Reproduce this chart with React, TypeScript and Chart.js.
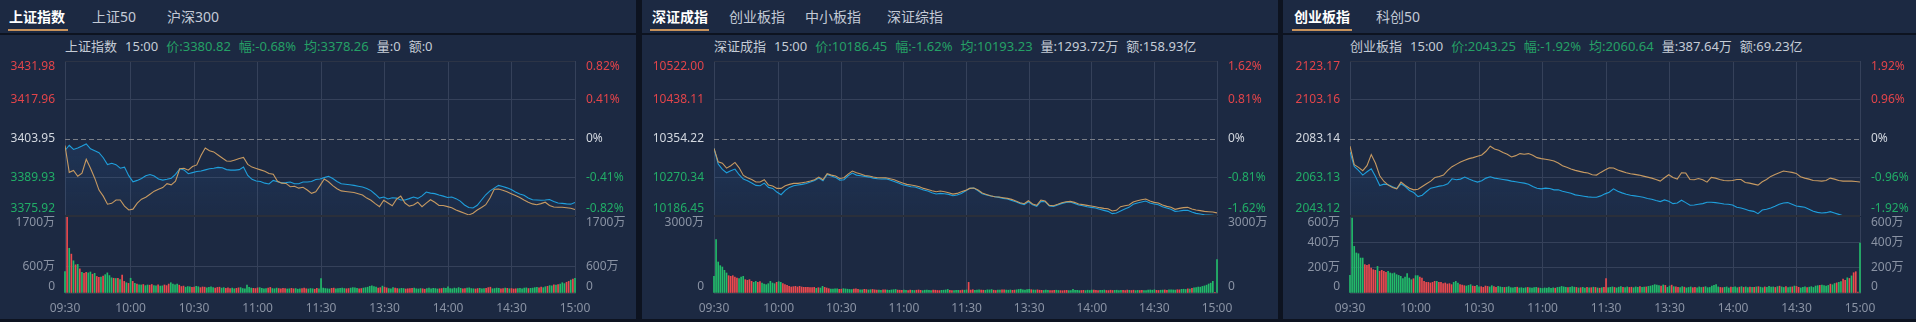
import React, { useEffect, useRef } from 'react';
import { Chart, registerables } from 'chart.js';

Chart.register(...registerables);

const FONT = '"Noto Sans", "Noto Sans CJK SC", sans-serif';
const BG = '#1c2942';
const GAP = '#0d1320';
const GRID = '#35415a';
const BORDER_TOP = '#2c3446';
const SEP = '#2a2f3a';
const RED = '#e2444a';
const GREEN = '#21ad67';
const WHITE = '#d3d8e0';
const GREY = '#8a93a4';
const BLUE = '#1f9fdc';
const TAN = '#c79a62';
const BAR_RED = '#ec4a4e';
const BAR_GREEN = '#22bb6a';
const HEAD_TEXT = '#c5ccd6';
const HEAD_GREEN = '#25a066';
const TAB_TEXT = '#c3cad6';
const TAB_LINE = '#c8925a';

// ---------- shared axis data ----------
const TIME_LABELS = ['09:30', '10:00', '10:30', '11:00', '11:30', '13:30', '14:00', '14:30', '15:00'];
const TIME_SLOTS = [0, 31, 61, 91, 121, 151, 181, 211, 241];
const SLOT_MAX = 241;

// ---------- 上证指数 ----------
const SH_TABS = ['上证指数', '上证50', '沪深300'];
const SH_HEADER = ['上证指数', '15:00', '价:3380.82', '幅:-0.68%', '均:3378.26', '量:0', '额:0'];
const SH_PRICE_TICKS = [3431.98, 3417.96, 3403.95, 3389.93, 3375.92];
const SH_PCT_TICKS = ['0.82%', '0.41%', '0%', '-0.41%', '-0.82%'];
const SH_VOL_TICKS = [1700, 600, 0];
const SH_VOL_LABELS = ['1700万', '600万', '0'];
const SH_PRICE = [
  3399.6, 3401.5, 3400.0, 3400.5, 3401.2, 3402.0, 3400.2, 3399.5, 3398.8, 3397.0,
  3394.5, 3395.0, 3394.5, 3393.2, 3393.6, 3390.5, 3388.3, 3388.8, 3389.5, 3390.5,
  3390.9, 3390.4, 3389.3, 3388.9, 3389.2, 3389.6, 3391.0, 3393.0, 3392.6, 3391.2,
  3391.6, 3392.0, 3392.2, 3392.6, 3393.0, 3393.2, 3393.5, 3393.4, 3392.7, 3392.5,
  3392.5, 3392.7, 3393.6, 3390.6, 3389.2, 3388.6, 3388.4, 3387.8, 3387.5, 3388.8,
  3388.3, 3387.9, 3388.0, 3388.2, 3387.6, 3387.6, 3388.2, 3388.2, 3388.4, 3389.1,
  3389.3, 3389.8, 3390.3, 3389.5, 3388.4, 3387.6, 3387.4, 3387.2, 3387.0, 3386.7,
  3386.4, 3385.9, 3385.1, 3383.8, 3382.4, 3382.8, 3382.1, 3382.5, 3382.4, 3381.7,
  3381.7, 3382.2, 3382.8, 3382.3, 3383.2, 3384.6, 3384.2, 3384.0, 3383.5, 3383.1,
  3382.6, 3382.8, 3382.2, 3381.3, 3379.9, 3379.0, 3378.8, 3379.8, 3381.7, 3383.6,
  3385.0, 3386.0, 3387.0, 3386.6, 3386.1, 3385.5, 3384.6, 3383.9, 3383.4, 3382.4,
  3381.8, 3381.7, 3381.6, 3381.7, 3381.9, 3381.2, 3380.6, 3380.5, 3380.3, 3380.2,
  3380.82,
];
const SH_AVG = [
  3401.4, 3391.7, 3392.4, 3390.3, 3391.4, 3396.4, 3393.2, 3389.6, 3385.3, 3383.1,
  3380.2, 3380.5, 3381.7, 3381.7, 3379.5, 3378.1, 3378.4, 3380.6, 3382.0, 3382.7,
  3383.8, 3384.9, 3385.6, 3386.2, 3387.6, 3387.2, 3388.5, 3393.0, 3393.2, 3392.5,
  3393.8, 3394.4, 3397.8, 3400.5, 3399.5, 3399.1, 3398.0, 3396.9, 3395.8, 3395.7,
  3396.2, 3396.7, 3397.1, 3394.6, 3393.6, 3393.1, 3392.6, 3392.1, 3391.3, 3391.0,
  3388.5, 3387.8, 3387.7, 3386.5, 3386.7, 3386.0, 3386.3, 3385.3, 3384.1, 3384.7,
  3386.9, 3389.3, 3388.3, 3386.9, 3385.8, 3385.0, 3384.8, 3384.6, 3384.4, 3384.0,
  3383.5, 3382.4, 3381.6, 3380.4, 3379.3, 3381.6, 3380.6, 3379.6, 3382.0, 3383.1,
  3380.6, 3379.5, 3379.9, 3380.9, 3379.3, 3380.6, 3381.8, 3380.9, 3379.7, 3379.7,
  3379.3, 3378.9, 3378.1, 3377.5, 3376.9, 3376.3, 3376.9, 3378.1, 3379.0, 3380.0,
  3382.4, 3385.6, 3385.7, 3385.2, 3384.7, 3384.0, 3383.3, 3382.6, 3381.7, 3380.9,
  3380.3, 3380.0, 3380.4, 3380.9, 3379.7, 3379.2, 3379.1, 3379.1, 3378.9, 3378.7,
  3378.26,
];
const SH_VOL = [
  480, 1690, 1000, 870, 720, 630, 640, 540, 460, 440,
  460, 450, 470, 420, 440, 370, 350, 355, 380, 410,
  450, 390, 340, 330, 325, 330, 300, 400, 260, 230,
  215, 330, 260, 215, 200, 185, 180, 190, 165, 180,
  175, 190, 165, 160, 180, 155, 160, 180, 165, 200,
  230, 200, 185, 200, 175, 145, 155, 130, 145, 140,
  125, 135, 150, 140, 120, 135, 130, 115, 125, 140,
  120, 110, 125, 130, 110, 120, 105, 115, 100, 110,
  95, 105, 115, 120, 100, 95, 175, 125, 110, 105,
  100, 115, 120, 105, 95, 100, 110, 125, 100, 95,
  110, 100, 95, 105, 100, 90, 95, 105, 95, 100,
  85, 95, 100, 110, 95, 90, 100, 95, 85, 105,
  95, 320, 110, 100, 95, 90, 105, 110, 95, 100,
  105, 110, 100, 95, 100, 110, 120, 115, 105, 95,
  100, 110, 120, 130, 150, 160, 145, 135, 110, 120,
  155, 130, 115, 100, 95, 120, 110, 100, 95, 105,
  100, 90, 95, 100, 105, 110, 95, 90, 100, 95,
  85, 100, 110, 95, 105, 100, 90, 95, 100, 110,
  105, 140, 100, 95, 110, 100, 120, 105, 95, 100,
  110, 115, 100, 95, 90, 100, 105, 95, 100, 105,
  120, 130, 95, 100, 110, 105, 95, 100, 110, 105,
  95, 100, 90, 95, 100, 105, 95, 110, 115, 100,
  105, 110, 120, 125, 115, 130, 120, 140, 150, 165,
  160, 180, 175, 190, 200, 230, 210, 240, 260, 290,
  310, 330,
];
const SH_DIR =
  'grgrgrgrgr' + 'rggrgrrgrg' + 'gggrgrgrrg' + 'rgrgrggrgg' + 'rrggrggrrr' +
  'ggggrrrggg' + 'rrggrrrggg' + 'grrrggrrrg' + 'grrggggggr' + 'rrggggrrgg' +
  'grrrrggrrg' + 'ggrrrgggrr' + 'ggggggrrgg' + 'gggrrggggr' + 'rgggggggrr' +
  'grrgggrrgg' + 'grrrrggggr' + 'rggggggrrg' + 'ggggggggrr' + 'ggggrrgggr' +
  'rrggggrrgr' + 'grrrgggggr' + 'ggggrrggrg' + 'grgrgggrrg' + 'rg';

// ---------- 深证成指 ----------
const SZ_TABS = ['深证成指', '创业板指', '中小板指', '深证综指'];
const SZ_HEADER = ['深证成指', '15:00', '价:10186.45', '幅:-1.62%', '均:10193.23', '量:1293.72万', '额:158.93亿'];
const SZ_PRICE_TICKS = [10522.0, 10438.11, 10354.22, 10270.34, 10186.45];
const SZ_PCT_TICKS = ['1.62%', '0.81%', '0%', '-0.81%', '-1.62%'];
const SZ_VOL_TICKS = [3000, 0];
const SZ_VOL_LABELS = ['3000万', '0'];
const SZ_PRICE = [
  10332.6, 10298.8, 10287.3, 10280.1, 10284.4, 10288.0, 10275.8, 10266.4, 10262.8, 10257.7,
  10252.7, 10252.0, 10257.7, 10248.4, 10246.2, 10238.3, 10232.5, 10241.9, 10248.4, 10252.0,
  10253.4, 10254.9, 10257.0, 10259.9, 10263.5, 10268.5, 10262.8, 10276.5, 10272.9, 10270.0,
  10264.2, 10265.0, 10273.6, 10279.4, 10275.0, 10273.6, 10272.2, 10270.7, 10268.5, 10267.1,
  10266.4, 10267.1, 10264.2, 10261.3, 10257.7, 10254.1, 10252.0, 10249.8, 10249.1, 10246.2,
  10242.6, 10240.4, 10236.8, 10234.0, 10235.4, 10234.7, 10233.2, 10230.4, 10231.8, 10235.4,
  10240.4, 10246.2, 10246.9, 10241.2, 10234.7, 10231.8, 10229.7, 10228.2, 10226.8, 10224.6,
  10223.2, 10220.3, 10217.4, 10213.8, 10211.0, 10217.4, 10211.0, 10207.3, 10218.1, 10217.4,
  10208.0, 10207.3, 10210.2, 10213.8, 10216.0, 10216.7, 10213.8, 10210.2, 10208.8, 10206.6,
  10205.2, 10203.7, 10200.9, 10198.7, 10196.5, 10191.5, 10192.9, 10197.2, 10201.6, 10205.2,
  10211.7, 10214.5, 10216.7, 10218.8, 10214.5, 10212.4, 10211.0, 10206.6, 10203.7, 10200.9,
  10196.5, 10197.2, 10198.7, 10198.7, 10195.1, 10192.2, 10190.8, 10189.3, 10188.6, 10187.9,
  10186.45,
];
const SZ_AVG = [
  10332.6, 10303.8, 10300.9, 10290.1, 10295.2, 10302.4, 10290.8, 10274.3, 10269.2, 10265.6,
  10259.9, 10259.9, 10264.9, 10253.4, 10251.2, 10246.2, 10246.2, 10252.0, 10254.9, 10257.0,
  10257.0, 10258.5, 10259.9, 10262.1, 10264.9, 10270.7, 10264.9, 10277.9, 10275.0, 10272.9,
  10267.8, 10269.2, 10277.2, 10283.7, 10280.1, 10277.2, 10274.3, 10272.9, 10270.7, 10269.2,
  10269.2, 10269.2, 10267.1, 10264.9, 10261.3, 10257.7, 10254.9, 10253.4, 10252.0, 10249.8,
  10246.2, 10244.0, 10241.2, 10239.0, 10240.4, 10239.0, 10236.8, 10233.9, 10235.4, 10239.0,
  10241.9, 10246.2, 10246.9, 10242.6, 10236.1, 10233.2, 10230.4, 10228.2, 10227.5, 10226.0,
  10224.6, 10222.5, 10218.8, 10215.3, 10213.1, 10219.6, 10212.4, 10209.5, 10221.0, 10218.8,
  10209.5, 10208.8, 10211.7, 10215.3, 10217.4, 10218.1, 10216.0, 10212.4, 10211.0, 10209.5,
  10208.0, 10206.6, 10204.5, 10203.0, 10202.3, 10197.2, 10198.7, 10206.6, 10208.8, 10210.2,
  10216.7, 10219.6, 10221.7, 10223.2, 10218.8, 10216.0, 10214.5, 10210.2, 10207.3, 10205.2,
  10200.9, 10203.0, 10204.5, 10205.2, 10201.6, 10199.4, 10198.0, 10196.5, 10195.8, 10195.1,
  10193.23,
];
const SZ_VOL = [
  660, 2105, 1224, 1080, 1026, 895, 790, 684, 658, 684,
  632, 590, 566, 632, 658, 526, 500, 526, 460, 421,
  460, 421, 447, 395, 355, 329, 368, 460, 395, 368,
  421, 447, 421, 368, 329, 303, 263, 237, 250, 263,
  237, 263, 237, 224, 224, 224, 210, 210, 224, 184,
  210, 197, 263, 224, 197, 171, 158, 150, 165, 160,
  145, 150, 170, 160, 150, 140, 135, 150, 160, 140,
  130, 125, 145, 135, 120, 130, 140, 125, 115, 120,
  110, 125, 130, 115, 105, 120, 130, 140, 115, 110,
  105, 120, 110, 100, 115, 105, 100, 110, 120, 105,
  95, 110, 120, 105, 100, 115, 110, 100, 95, 105,
  110, 120, 140, 105, 100, 95, 110, 105, 100, 115,
  110, 120, 420, 115, 130, 110, 120, 125, 115, 110,
  105, 125, 120, 135, 110, 100, 115, 120, 125, 130,
  115, 110, 120, 105, 115, 125, 140, 150, 130, 120,
  135, 145, 130, 120, 115, 125, 110, 105, 100, 115,
  110, 95, 100, 105, 110, 100, 95, 90, 100, 105,
  95, 100, 140, 110, 105, 95, 100, 105, 95, 110,
  100, 115, 120, 105, 100, 110, 105, 115, 100, 95,
  110, 100, 105, 110, 95, 105, 110, 100, 115, 105,
  100, 110, 95, 105, 100, 110, 95, 100, 115, 120,
  110, 125, 105, 100, 110, 115, 120, 110, 125, 130,
  120, 115, 130, 125, 145, 150, 140, 165, 155, 180,
  200, 215, 235, 230, 260, 280, 310, 355, 390, 460,
  30, 1316,
];
const SZ_DIR =
  'gggggggrrr' + 'rrgggrrrrg' + 'grrggggggg' + 'rggrrrrrrr' + 'rrrrrrrrrg' +
  'rggrrrgggg' + 'rrgggggrrr' + 'ggrrggrrrg' + 'grrgggggrr' + 'rggrrggrrr' +
  'gggggrrrrg' + 'gggrrgggrr' + 'ggrrrgggrr' + 'ggggrrggrr' + 'gggrrggggg' +
  'ggrggrrrgg' + 'grrrggrrrr' + 'ggggggrrgg' + 'ggrrrgggrr' + 'rrggggrrrg' +
  'rrggrrgggg' + 'ggrrggrrgg' + 'ggrrgggrgr' + 'gggggggggg' + 'rg';

// ---------- 创业板指 ----------
const CY_TABS = ['创业板指', '科创50'];
const CY_HEADER = ['创业板指', '15:00', '价:2043.25', '幅:-1.92%', '均:2060.64', '量:387.64万', '额:69.23亿'];
const CY_PRICE_TICKS = [2123.17, 2103.16, 2083.14, 2063.13, 2043.12];
const CY_PCT_TICKS = ['1.92%', '0.96%', '0%', '-0.96%', '-1.92%'];
const CY_VOL_TICKS = [600, 400, 200, 0];
const CY_VOL_LABELS = ['600万', '400万', '200万', '0'];
const CY_PRICE = [
  2076.21, 2068.76, 2066.68, 2064.25, 2065.98, 2067.54, 2063.56, 2058.88, 2059.57, 2059.22,
  2058.18, 2057.32, 2059.74, 2058.36, 2056.28, 2055.24, 2053.16, 2053.85, 2055.76, 2057.49,
  2058.01, 2058.53, 2058.88, 2059.74, 2062.34, 2061.82, 2062.17, 2063.21, 2062.17, 2061.30,
  2060.61, 2061.30, 2062.69, 2063.38, 2062.69, 2062.34, 2061.99, 2061.65, 2061.13, 2060.78,
  2060.44, 2060.09, 2059.57, 2058.36, 2057.49, 2057.15, 2057.49, 2057.32, 2056.63, 2056.63,
  2055.93, 2055.41, 2054.89, 2054.03, 2053.68, 2053.33, 2052.99, 2052.81, 2052.81, 2053.51,
  2054.55, 2055.41, 2057.15, 2055.93, 2055.07, 2054.37, 2053.85, 2053.51, 2053.16, 2052.81,
  2052.12, 2051.77, 2051.08, 2050.56, 2051.43, 2050.73, 2049.52, 2049.87, 2051.25, 2050.04,
  2048.65, 2048.83, 2049.17, 2049.52, 2050.21, 2050.21, 2050.04, 2049.69, 2049.35, 2049.17,
  2048.83, 2047.61, 2047.27, 2046.57, 2045.88, 2045.53, 2044.32, 2046.23, 2046.57, 2047.27,
  2048.13, 2049.17, 2049.87, 2050.04, 2049.17, 2048.31, 2047.96, 2047.61, 2046.57, 2045.53,
  2045.01, 2044.67, 2044.84, 2045.36, 2044.67, 2043.97, 2043.28, 2043.11, 2043.28, 2043.28,
  2043.25,
];
const CY_AVG = [
  2079.15, 2069.62, 2068.24, 2066.50, 2069.10, 2074.82, 2070.32, 2063.90, 2060.96, 2059.05,
  2057.84, 2057.15, 2060.61, 2058.88, 2057.49, 2056.63, 2056.97, 2058.36, 2059.74, 2061.13,
  2063.04, 2063.56, 2064.25, 2066.68, 2068.58, 2069.79, 2071.01, 2071.87, 2072.74, 2073.26,
  2073.96, 2074.65, 2076.55, 2079.15, 2077.76, 2077.07, 2075.86, 2074.99, 2073.61, 2074.30,
  2075.34, 2074.99, 2075.34, 2074.47, 2073.26, 2072.74, 2072.40, 2072.05, 2071.53, 2070.49,
  2069.10, 2068.24, 2067.37, 2066.68, 2066.16, 2065.64, 2065.29, 2064.42, 2064.25, 2065.64,
  2066.85, 2068.06, 2067.89, 2066.85, 2066.16, 2065.46, 2064.94, 2064.60, 2064.25, 2063.73,
  2063.21, 2062.69, 2061.99, 2061.13, 2062.86, 2064.42, 2063.04, 2062.17, 2065.46, 2065.29,
  2061.99, 2061.82, 2062.51, 2061.82, 2060.61, 2063.04, 2062.69, 2061.99, 2061.48, 2061.30,
  2061.48, 2061.99, 2061.99, 2060.44, 2060.09, 2059.57, 2059.05, 2060.78, 2061.99, 2063.56,
  2064.60, 2065.46, 2066.33, 2065.98, 2065.64, 2065.12, 2063.38, 2062.69, 2062.17, 2061.48,
  2061.30, 2061.13, 2061.48, 2062.69, 2062.17, 2061.48, 2061.13, 2061.13, 2061.13, 2060.95,
  2060.64,
];
const CY_VOL = [
  139, 592, 368, 316, 310, 276, 276, 224, 219, 224,
  197, 184, 179, 210, 171, 179, 171, 163, 171, 158,
  153, 158, 145, 139, 132, 113, 126, 153, 118, 105,
  113, 137, 137, 126, 118, 92, 84, 84, 79, 84,
  92, 92, 84, 84, 74, 79, 71, 74, 66, 84,
  92, 79, 66, 62, 58, 55, 60, 66, 55, 52,
  60, 48, 50, 45, 55, 52, 48, 58, 50, 45,
  52, 48, 45, 44, 46, 50, 42, 40, 44, 46,
  40, 42, 38, 42, 44, 40, 38, 42, 45, 40,
  38, 36, 40, 38, 42, 36, 40, 38, 44, 46,
  52, 48, 44, 42, 45, 50, 46, 44, 40, 42,
  45, 38, 44, 40, 42, 46, 44, 40, 38, 42,
  45, 113, 42, 45, 48, 44, 40, 46, 50, 45,
  42, 48, 44, 46, 42, 48, 45, 50, 44, 46,
  48, 52, 55, 60, 66, 62, 58, 55, 64, 60,
  45, 55, 62, 50, 48, 44, 42, 50, 46, 40,
  44, 48, 42, 45, 40, 48, 44, 46, 50, 42,
  44, 55, 60, 66, 48, 44, 42, 45, 48, 40,
  46, 44, 48, 42, 46, 50, 44, 48, 42, 46,
  44, 45, 48, 50, 46, 42, 48, 44, 52, 46,
  48, 44, 50, 54, 48, 44, 50, 42, 46, 48,
  55, 52, 45, 40, 44, 48, 42, 46, 50, 44,
  55, 58, 60, 62, 58, 55, 60, 70, 65, 75,
  80, 85, 90, 110, 100, 120, 115, 135, 160, 168,
  8, 395,
];
const CY_DIR =
  'gggggggrrr' + 'rrrgrrrrgg' + 'gggggggggg' + 'rggrrrrrrr' + 'rgrrrrrrrg' +
  'ggrrrgggrr' + 'ggrrrrggrr' + 'gggrgggggr' + 'ggggrggggr' + 'gggggggrgg' +
  'gggrgggrgr' + 'ggrgrgrgrg' + 'rrgggrgggr' + 'ggrrgggrgg' + 'rggggggrgr' +
  'ggrgrrggrg' + 'ggrrgggrgg' + 'gggggrrggg' + 'rgggrgrggr' + 'grgrggrggg' +
  'grgrggrggr' + 'grrgggrggg' + 'ggrggggrgg' + 'rggrrgrgrr' + 'rg';

// ---------- panel layout (positions only) ----------
const LAYOUT = [
  { left: 0, width: 636, chartLeft: 65, chartRight: 575, tabX: [9, 92, 167], line: [8, 68] },
  { left: 642, width: 636, chartLeft: 72, chartRight: 575, tabX: [10, 87, 163, 245], line: [8, 67] },
  { left: 1283, width: 633, chartLeft: 67, chartRight: 577, tabX: [11, 93], line: [9, 69] },
];

const PANELS = [
  { tabs: SH_TABS, header: SH_HEADER, priceTicks: SH_PRICE_TICKS, pctTicks: SH_PCT_TICKS, volTicks: SH_VOL_TICKS, volLabels: SH_VOL_LABELS, price: SH_PRICE, avg: SH_AVG, vol: SH_VOL, dir: SH_DIR },
  { tabs: SZ_TABS, header: SZ_HEADER, priceTicks: SZ_PRICE_TICKS, pctTicks: SZ_PCT_TICKS, volTicks: SZ_VOL_TICKS, volLabels: SZ_VOL_LABELS, price: SZ_PRICE, avg: SZ_AVG, vol: SZ_VOL, dir: SZ_DIR },
  { tabs: CY_TABS, header: CY_HEADER, priceTicks: CY_PRICE_TICKS, pctTicks: CY_PCT_TICKS, volTicks: CY_VOL_TICKS, volLabels: CY_VOL_LABELS, price: CY_PRICE, avg: CY_AVG, vol: CY_VOL, dir: CY_DIR },
];

type LabelItem = { scale: string; value: number; text: string; color: string; side: 'left' | 'right'; shift: number };

function makeLabelPlugin(id: string, items: LabelItem[]) {
  return {
    id,
    afterDraw(chart: any) {
      const { ctx, chartArea } = chart;
      ctx.save();
      ctx.font = `12px ${FONT}`;
      ctx.textBaseline = 'middle';
      for (const it of items) {
        const s = chart.scales[it.scale];
        const y = s.getPixelForValue(it.value) + it.shift;
        ctx.fillStyle = it.color;
        if (it.side === 'left') {
          ctx.textAlign = 'right';
          ctx.fillText(it.text, chartArea.left - 10, y);
        } else {
          ctx.textAlign = 'left';
          ctx.fillText(it.text, chartArea.right + 11, y);
        }
      }
      ctx.restore();
    },
  };
}

function Panel({ idx }: { idx: number }) {
  const lay = LAYOUT[idx];
  const p = PANELS[idx];
  const priceRef = useRef<HTMLCanvasElement>(null);
  const volRef = useRef<HTMLCanvasElement>(null);

  useEffect(() => {
    const charts: Chart[] = [];
    const leftW = lay.chartLeft;
    const rightW = lay.width - lay.chartRight;
    const pMax = p.priceTicks[0];
    const pMin = p.priceTicks[p.priceTicks.length - 1];
    const pBase = p.priceTicks[2];
    const n = p.price.length;
    const pricePts = p.price.map((v, i) => ({ x: (i * SLOT_MAX) / (n - 1), y: v }));
    const avgPts = p.avg.map((v, i) => ({ x: (i * SLOT_MAX) / (p.avg.length - 1), y: v }));

    const priceItems: LabelItem[] = [];
    p.priceTicks.forEach((v, i) => {
      const color = i < 2 ? RED : i === 2 ? WHITE : GREEN;
      const shift = i === 0 ? 6 : i === p.priceTicks.length - 1 ? -7 : 0;
      priceItems.push({ scale: 'y', value: v, text: v.toFixed(2), color, side: 'left', shift });
      priceItems.push({ scale: 'y', value: v, text: p.pctTicks[i], color, side: 'right', shift });
    });

    const dashPlugin = {
      id: 'zeroDash' + idx,
      beforeDatasetsDraw(chart: any) {
        const { ctx, chartArea } = chart;
        const y = Math.round(chart.scales.y.getPixelForValue(pBase)) + 0.5;
        ctx.save();
        ctx.strokeStyle = '#7b7f88';
        ctx.lineWidth = 1;
        ctx.setLineDash([5, 3]);
        ctx.beginPath();
        ctx.moveTo(chartArea.left, y);
        ctx.lineTo(chartArea.right, y);
        ctx.stroke();
        ctx.restore();
      },
    };

    const xCommon = {
      type: 'linear' as const,
      min: 0,
      max: SLOT_MAX,
      offset: false,
      afterBuildTicks: (s: any) => {
        s.ticks = TIME_SLOTS.map((v) => ({ value: v }));
      },
    };

    if (priceRef.current) {
      charts.push(
        new Chart(priceRef.current, {
          type: 'line',
          data: {
            datasets: [
              { data: avgPts, borderColor: TAN, borderWidth: 1.1, pointRadius: 0, fill: false, yAxisID: 'y', tension: 0 },
              {
                data: pricePts,
                borderColor: BLUE,
                borderWidth: 1.1,
                pointRadius: 0,
                tension: 0,
                yAxisID: 'y',
                fill: 'start',
                backgroundColor: (c: any) => {
                  const area = c.chart.chartArea;
                  if (!area) return 'rgba(0,0,0,0)';
                  const g = c.chart.ctx.createLinearGradient(0, area.top, 0, area.bottom);
                  g.addColorStop(0, 'rgba(48,118,200,0.26)');
                  g.addColorStop(1, 'rgba(48,118,200,0.04)');
                  return g;
                },
              },
            ],
          },
          options: {
            animation: false,
            responsive: false,
            maintainAspectRatio: false,
            events: [],
            layout: { padding: { top: 6, left: 0, right: 0, bottom: 0 } },
            plugins: { legend: { display: false }, tooltip: { enabled: false } },
            scales: {
              x: {
                ...xCommon,
                afterFit: (s: any) => {
                  s.height = 0;
                },
                ticks: { display: false },
                grid: { color: GRID, drawTicks: false, offset: false },
                border: { display: false },
              },
              y: {
                type: 'linear',
                position: 'left',
                min: pMin,
                max: pMax,
                afterBuildTicks: (s: any) => {
                  s.ticks = p.priceTicks.map((v) => ({ value: v }));
                },
                afterFit: (s: any) => {
                  s.width = leftW;
                },
                ticks: { display: false },
                grid: {
                  drawTicks: false,
                  color: (c: any) => {
                    const v = c.tick ? c.tick.value : null;
                    if (v === pMax) return BORDER_TOP;
                    if (v === pMin || v === pBase) return 'rgba(0,0,0,0)';
                    return GRID;
                  },
                },
                border: { display: false },
              },
              yR: {
                type: 'linear',
                position: 'right',
                min: pMin,
                max: pMax,
                afterFit: (s: any) => {
                  s.width = rightW;
                },
                ticks: { display: false },
                grid: { display: false, drawTicks: false },
                border: { display: false },
              },
            },
          } as any,
          plugins: [dashPlugin, makeLabelPlugin('priceLabels' + idx, priceItems)],
        })
      );
    }

    const vMax = p.volTicks[0];
    const volItems: LabelItem[] = [];
    p.volTicks.forEach((v, i) => {
      const shift = v === vMax ? 6 : v === 0 ? -6 : 0;
      volItems.push({ scale: 'y', value: v, text: p.volLabels[i], color: GREY, side: 'left', shift });
      volItems.push({ scale: 'y', value: v, text: p.volLabels[i], color: GREY, side: 'right', shift });
    });
    const sepPlugin = {
      id: 'sep' + idx,
      afterDraw(chart: any) {
        const { ctx, chartArea } = chart;
        ctx.save();
        ctx.fillStyle = SEP;
        ctx.fillRect(chartArea.left, chartArea.top - 2, chartArea.right - chartArea.left, 2);
        ctx.restore();
      },
    };

    if (volRef.current) {
      charts.push(
        new Chart(volRef.current, {
          type: 'bar',
          data: {
            datasets: [
              {
                data: p.vol.map((v, i) => ({ x: i, y: v })),
                backgroundColor: p.vol.map((_, i) => (p.dir[i] === 'r' ? BAR_RED : BAR_GREEN)),
                barThickness: 1,
                grouped: false,
                clip: 4,
              } as any,
            ],
          },
          options: {
            animation: false,
            responsive: false,
            maintainAspectRatio: false,
            events: [],
            layout: { padding: { top: 2, left: 0, right: 0, bottom: 0 } },
            plugins: { legend: { display: false }, tooltip: { enabled: false } },
            scales: {
              x: {
                ...xCommon,
                afterFit: (s: any) => {
                  s.height = 26;
                },
                ticks: {
                  display: true,
                  color: GREY,
                  font: { size: 12, family: FONT },
                  padding: 8,
                  autoSkip: false,
                  maxRotation: 0,
                  callback: (_v: any, i: number) => TIME_LABELS[i],
                },
                grid: { color: GRID, drawTicks: false, offset: false },
                border: { display: true, color: '#2f3a50' },
              },
              y: {
                type: 'linear',
                position: 'left',
                min: 0,
                max: vMax,
                afterBuildTicks: (s: any) => {
                  s.ticks = p.volTicks.map((v) => ({ value: v }));
                },
                afterFit: (s: any) => {
                  s.width = leftW;
                },
                ticks: { display: false },
                grid: {
                  drawTicks: false,
                  color: (c: any) => {
                    const v = c.tick ? c.tick.value : null;
                    if (v === vMax || v === 0) return 'rgba(0,0,0,0)';
                    return GRID;
                  },
                },
                border: { display: false },
              },
              yR: {
                type: 'linear',
                position: 'right',
                min: 0,
                max: vMax,
                afterFit: (s: any) => {
                  s.width = rightW;
                },
                ticks: { display: false },
                grid: { display: false, drawTicks: false },
                border: { display: false },
              },
            },
          } as any,
          plugins: [sepPlugin, makeLabelPlugin('volLabels' + idx, volItems)],
        })
      );
    }

    return () => {
      charts.forEach((c) => c.destroy());
    };
  }, [idx]);

  const headerColors = [HEAD_TEXT, HEAD_TEXT, HEAD_GREEN, HEAD_GREEN, HEAD_GREEN, HEAD_TEXT, HEAD_TEXT];

  return (
    <div
      style={{
        position: 'absolute',
        left: lay.left,
        top: 0,
        width: lay.width,
        height: 319,
        background: BG,
        overflow: 'hidden',
        fontFamily: FONT,
      }}
    >
      {p.tabs.map((t, i) => (
        <span
          key={t}
          style={{
            position: 'absolute',
            left: lay.tabX[i],
            top: 7,
            fontSize: 14,
            lineHeight: '20px',
            whiteSpace: 'nowrap',
            color: i === 0 ? '#ffffff' : TAB_TEXT,
            fontWeight: i === 0 ? 700 : 400,
          }}
        >
          {t}
        </span>
      ))}
      <div
        style={{
          position: 'absolute',
          left: lay.line[0],
          top: 29,
          width: lay.line[1] - lay.line[0],
          height: 2,
          background: TAB_LINE,
        }}
      />
      <div style={{ position: 'absolute', left: 0, top: 33, width: lay.width, height: 2, background: GAP }} />
      <div
        style={{
          position: 'absolute',
          left: lay.chartLeft,
          top: 37,
          fontSize: 13,
          lineHeight: '18px',
          whiteSpace: 'nowrap',
        }}
      >
        {p.header.map((h, i) => (
          <span key={i} style={{ color: headerColors[i], marginRight: 8 }}>
            {h}
          </span>
        ))}
      </div>
      <canvas
        ref={priceRef}
        width={lay.width}
        height={161}
        style={{ position: 'absolute', left: 0, top: 55, width: lay.width, height: 161 }}
      />
      <canvas
        ref={volRef}
        width={lay.width}
        height={104}
        style={{ position: 'absolute', left: 0, top: 215, width: lay.width, height: 104 }}
      />
    </div>
  );
}

export default function App() {
  return (
    <div
      style={{
        position: 'fixed',
        left: 0,
        top: 0,
        width: 1916,
        height: 322,
        background: GAP,
        overflow: 'hidden',
      }}
    >
      <Panel idx={0} />
      <Panel idx={1} />
      <Panel idx={2} />
    </div>
  );
}
